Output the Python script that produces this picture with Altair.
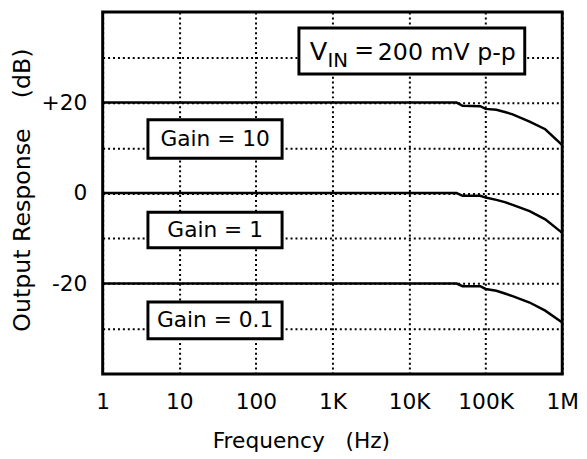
import altair as alt
import pandas as pd

# ---- data ----
freq_hz = [1, 41700, 50000, 85000, 100000, 138000, 178000, 225000, 375000, 600000, 1000000]
gain10_db = [20, 20, 19.3, 19.2, 18.6, 18.4, 17.9, 17.4, 15.8, 14.1, 10.6]
gain1_db = [0, 0, -0.6, -0.6, -1.0, -1.5, -2.0, -2.6, -4.0, -5.8, -8.8]
gain01_db = [-20, -20, -20.6, -20.6, -21.2, -21.6, -22.2, -22.8, -24.2, -26.0, -28.6]

tick_values = [1, 10, 100, 1000, 10000, 100000, 1000000]
tick_labels = ["1", "10", "100", "1K", "10K", "100K", "1M"]
y_grid_values = [-30, -20, -10, 0, 10, 20, 30]
y_tick_text = {20: "+20", 0: "0", -20: "-20"}

box_labels = ["Gain\u00a0=\u00a010", "Gain\u00a0=\u00a01", "Gain\u00a0=\u00a00.1"]
box_left_hz = [3.9, 3.9, 3.9]
box_right_hz = [220, 220, 220]
box_top_db = [16.2, -4.25, -24.1]
box_bottom_db = [7.7, -12.1, -32.2]
box_text_hz = [29.4, 29.4, 29.4]
box_text_db = [12.0, -8.2, -28.1]

vin_left_hz = [365]
vin_right_hz = [324000]
vin_top_db = [36.5]
vin_bottom_db = [26.3]
vin_text_db = [29.5]

# ---- tables ----
curves = pd.DataFrame({
    "f": freq_hz * 3,
    "db": gain10_db + gain1_db + gain01_db,
    "series": ["Gain 10"] * len(freq_hz) + ["Gain 1"] * len(freq_hz) + ["Gain 0.1"] * len(freq_hz),
})
boxes = pd.DataFrame({
    "x1": box_left_hz + vin_left_hz,
    "x2": box_right_hz + vin_right_hz,
    "y1": box_top_db + vin_top_db,
    "y2": box_bottom_db + vin_bottom_db,
})
box_text = pd.DataFrame({"f": box_text_hz, "db": box_text_db, "label": box_labels})
vin = pd.DataFrame({"f": vin_left_hz, "db": vin_text_db})

x_label_expr = ""
for v, lab in zip(tick_values, tick_labels):
    x_label_expr += f"abs(datum.value - {v}) < {v * 0.01} ? '{lab}' : "
x_label_expr += "''"
y_label_expr = ""
for v, lab in y_tick_text.items():
    y_label_expr += f"datum.value == {v} ? '{lab}' : "
y_label_expr += "''"

FONT = "DejaVu Sans"

x_scale = alt.Scale(type="log", domain=[1, 1000000], nice=False)
y_scale = alt.Scale(domain=[-40, 40], nice=False, zero=False)

x_axis = alt.Axis(
    values=tick_values, labelExpr=x_label_expr, title="Frequency\u00a0\u00a0\u00a0(Hz)",
    grid=True, gridColor="black", gridDash=[2, 3], gridWidth=2, gridOpacity=1,
    ticks=False, domain=False, labelPadding=18, labelFontSize=22, labelFont=FONT,
    labelColor="black", labelFlush=False, labelOverlap=False,
    titleFont=FONT, titleFontSize=22, titleFontWeight="normal", titleColor="black",
    titleX=201, titleY=75, titleAlign="center", titleBaseline="alphabetic",
)
y_axis = alt.Axis(
    values=y_grid_values, labelExpr=y_label_expr,
    title="Output Response\u00a0\u00a0\u00a0\u00a0(dB)",
    grid=True, gridColor="black", gridDash=[2, 3], gridWidth=2, gridOpacity=1,
    ticks=False, domain=False, labelPadding=16, labelFontSize=22, labelFont=FONT,
    labelColor="black", labelOverlap=False,
    titleFont=FONT, titleFontSize=24, titleFontWeight="normal", titleColor="black",
    titleX=-74, titleY=180, titleAlign="center", titleBaseline="alphabetic", titleAngle=270,
    titleLimit=400,
)

lines = alt.Chart(curves).mark_line(color="black", strokeWidth=2.5).encode(
    x=alt.X("f:Q", scale=x_scale, axis=x_axis),
    y=alt.Y("db:Q", scale=y_scale, axis=y_axis),
    detail="series:N",
)

rects = alt.Chart(boxes).mark_rect(fill="white", stroke="black", strokeWidth=3).encode(
    x=alt.X("x1:Q", scale=x_scale), x2="x2:Q",
    y=alt.Y("y1:Q", scale=y_scale), y2="y2:Q",
)

texts = alt.Chart(box_text).mark_text(
    font=FONT, fontSize=22, color="black", align="center", baseline="middle"
).encode(
    x=alt.X("f:Q", scale=x_scale), y=alt.Y("db:Q", scale=y_scale), text="label:N"
)

vin_base = alt.Chart(vin).encode(x=alt.X("f:Q", scale=x_scale), y=alt.Y("db:Q", scale=y_scale))
v_text = vin_base.mark_text(font=FONT, fontSize=26, color="black", align="left",
                            baseline="alphabetic", dx=11, text="V")
in_text = vin_base.mark_text(font=FONT, fontSize=20, color="black", align="left",
                             baseline="alphabetic", dx=29, dy=8, text="IN")
eq_text = vin_base.mark_text(font=FONT, fontSize=24, color="black", align="left",
                             baseline="alphabetic", dx=56, dy=-2, text="=")
rest_text = vin_base.mark_text(font=FONT, fontSize=24, color="black", align="left",
                               baseline="alphabetic", dx=80, text="200 mV p-p")

chart = alt.layer(lines, rects, texts, v_text, in_text, eq_text, rest_text).properties(
    width=466, height=367,
    autosize=alt.AutoSizeParams(type="none"),
    padding={"left": 96, "top": 1, "right": 17, "bottom": 80},
).configure_view(stroke="black", strokeWidth=3)

chart.save("out.html", embed_options={"renderer": "svg", "actions": False})
